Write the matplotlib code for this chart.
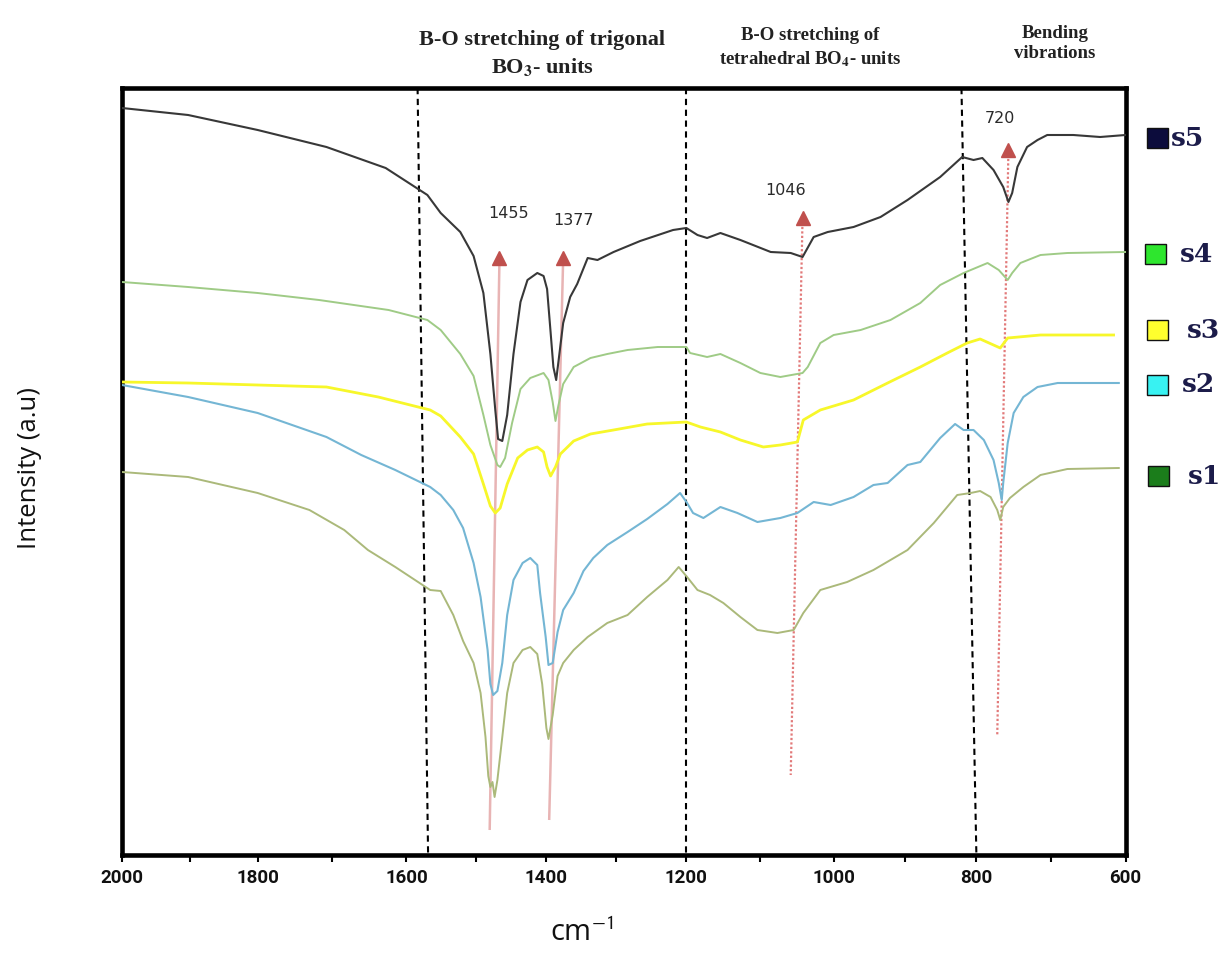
import numpy as np
import matplotlib
matplotlib.use('Agg')
import matplotlib.pyplot as plt
from matplotlib.patches import Rectangle
from matplotlib.ticker import FixedLocator

plt.rcParams['mathtext.fontset'] = 'stix'

# ---------------- data (wavenumber cm-1, intensity a.u.) ----------------
wn_s5 = [2000, 1903, 1801, 1708, 1628, 1570, 1551, 1523, 1504, 1490, 1480, 1473, 1469, 1463,
         1456, 1447, 1437, 1427, 1413, 1404, 1399, 1394, 1390, 1386, 1383, 1376, 1366, 1356,
         1341, 1327, 1304, 1266, 1219, 1200, 1185, 1172, 1154, 1127, 1086, 1059, 1043, 1028,
         1009, 973, 935, 897, 851, 820, 804, 792, 777, 764, 757, 752, 745, 732, 718, 705, 670,
         634, 600]
int_s5 = [74.7, 74.0, 72.5, 70.8, 68.7, 66.0, 64.2, 62.3, 59.9, 56.2, 50.1, 44.5, 41.6, 41.4,
          44.0, 50.1, 55.3, 57.5, 58.2, 57.9, 56.6, 52.3, 48.8, 47.5, 49.2, 53.2, 55.8, 57.1,
          59.7, 59.5, 60.3, 61.4, 62.5, 62.7, 62.0, 61.7, 62.2, 61.5, 60.3, 60.2, 59.8, 61.8,
          62.3, 62.8, 63.8, 65.5, 67.8, 69.8, 69.5, 69.7, 68.5, 66.8, 65.3, 66.2, 68.8, 70.8,
          71.5, 72.0, 72.0, 71.8, 72.0]

wn_s4 = [2000, 1903, 1801, 1718, 1624, 1570, 1551, 1523, 1504, 1490, 1480, 1470, 1466, 1459,
         1449, 1437, 1423, 1404, 1397, 1391, 1387, 1383, 1376, 1361, 1337, 1313, 1284, 1241,
         1200, 1195, 1172, 1154, 1127, 1100, 1073, 1043, 1036, 1019, 1001, 963, 921, 879, 851,
         818, 785, 770, 758, 752, 741, 714, 678, 600]
int_s4 = [57.3, 56.8, 56.2, 55.5, 54.5, 53.5, 52.5, 50.1, 47.9, 44.0, 41.0, 39.0, 38.8, 39.7,
          43.2, 46.6, 47.7, 48.2, 47.5, 45.3, 43.4, 44.9, 47.1, 48.8, 49.7, 50.1, 50.5, 50.8,
          50.8, 50.2, 49.8, 50.1, 49.2, 48.2, 47.8, 48.2, 48.8, 51.2, 52.0, 52.5, 53.5, 55.2,
          57.0, 58.2, 59.2, 58.5, 57.5, 58.2, 59.2, 60.0, 60.2, 60.3]

wn_s3 = [2000, 1903, 1801, 1708, 1638, 1566, 1551, 1523, 1504, 1490, 1480, 1473, 1466, 1456,
         1441, 1427, 1413, 1404, 1399, 1394, 1387, 1380, 1361, 1337, 1304, 1256, 1200, 1181,
         1154, 1127, 1096, 1073, 1050, 1042, 1019, 973, 925, 879, 841, 813, 795, 777, 768, 758,
         714, 616]
int_s3 = [47.3, 47.2, 47.0, 46.8, 45.8, 44.5, 43.9, 41.8, 40.1, 37.1, 34.9, 34.2, 34.7, 37.1,
          39.7, 40.5, 40.8, 40.3, 38.8, 37.9, 38.8, 40.1, 41.4, 42.1, 42.5, 43.1, 43.3, 42.8,
          42.3, 41.5, 40.8, 41.0, 41.3, 43.5, 44.5, 45.5, 47.2, 48.8, 50.2, 51.2, 51.6, 51.0,
          50.7, 51.7, 52.0, 52.0]

wn_s2 = [2000, 1903, 1801, 1708, 1661, 1615, 1566, 1551, 1533, 1519, 1504, 1494, 1484, 1480,
         1476, 1470, 1463, 1456, 1447, 1434, 1423, 1413, 1409, 1401, 1397, 1391, 1384, 1376,
         1361, 1347, 1333, 1313, 1284, 1256, 1227, 1209, 1199, 1191, 1177, 1154, 1131, 1104,
         1073, 1050, 1028, 1005, 973, 945, 925, 897, 879, 851, 830, 818, 804, 790, 777, 770,
         766, 764, 758, 750, 737, 718, 691, 609]
int_s2 = [47.0, 45.8, 44.2, 41.8, 40.0, 38.5, 36.8, 36.0, 34.5, 32.7, 29.2, 25.8, 20.5, 17.1,
          16.0, 16.4, 19.2, 24.0, 27.5, 29.2, 29.7, 29.0, 26.2, 21.8, 19.0, 19.2, 22.3, 24.5,
          26.2, 28.4, 29.7, 31.0, 32.3, 33.6, 35.1, 36.2, 35.2, 34.2, 33.7, 34.8, 34.2, 33.3,
          33.7, 34.2, 35.3, 35.0, 35.8, 37.0, 37.2, 39.0, 39.3, 41.7, 43.1, 42.5, 42.5, 41.5,
          39.5, 37.2, 35.5, 37.2, 41.2, 44.2, 45.8, 46.8, 47.2, 47.2]

wn_s1 = [2000, 1903, 1801, 1731, 1684, 1652, 1615, 1566, 1551, 1533, 1519, 1504, 1494, 1487,
         1483, 1480, 1477, 1474, 1470, 1463, 1456, 1447, 1434, 1423, 1413, 1406, 1400, 1397,
         1391, 1384, 1376, 1361, 1341, 1313, 1284, 1256, 1227, 1211, 1199, 1185, 1168, 1150,
         1127, 1104, 1077, 1055, 1042, 1019, 982, 945, 897, 860, 827, 808, 795, 781, 772, 768,
         764, 755, 737, 714, 678, 609]
int_s1 = [38.3, 37.8, 36.2, 34.5, 32.5, 30.5, 28.8, 26.5, 26.4, 24.0, 21.4, 19.2, 16.2, 11.8,
          7.9, 6.8, 7.3, 5.8, 7.5, 11.8, 16.2, 19.2, 20.5, 20.8, 20.1, 17.1, 12.7, 11.6, 14.0,
          17.9, 19.2, 20.5, 21.8, 23.2, 24.0, 25.8, 27.5, 28.8, 27.8, 26.5, 26.0, 25.2, 23.8,
          22.5, 22.2, 22.5, 24.2, 26.5, 27.3, 28.5, 30.5, 33.2, 36.0, 36.2, 36.4, 35.8, 34.5,
          33.5, 34.8, 35.7, 36.8, 38.0, 38.6, 38.7]

series_names = ['s5', 's4', 's3', 's2', 's1']
line_colors = ['#383838', '#9fcb86', '#f7f72a', '#74b6d4', '#abb97a']
legend_colors = ['#0c0c3c', '#2ee62e', '#ffff2e', '#38f2f2', '#1b7d1b']

# band boundaries (dashed lines): wavenumber at top and at bottom of the plot
band_top_wn = [1584, 1200, 821]
band_bottom_wn = [1569, 1200, 800]
band_titles = [['B-O stretching of trigonal', r'BO$_\mathbf{3}$- units'],
               ['B-O stretching of', r'tetrahedral BO$_\mathbf{4}$- units'],
               ['Bending', 'vibrations']]

# peak markers
peak_labels = ['1455', '1377', '1046', '720']
arrow_top_wn = [1467, 1376, 1043, 757]
arrow_top_int = [59.7, 59.7, 63.7, 70.5]
arrow_bot_wn = [1481, 1396, 1059, 772]
arrow_bot_int = [2.5, 3.5, 8.0, 12.0]
peak_label_wn = [1454, 1361, 1066, 768]
peak_label_int = [64.2, 63.5, 66.5, 73.7]

xticks = [2000, 1800, 1600, 1400, 1200, 1000, 800, 600]
xminor = [1900, 1700, 1500, 1300, 1100, 900, 700]

# the printed wavenumber axis of the original is slightly non-uniform;
# relative positions of its major ticks (fraction of the axis width)
tick_frac = [0.0, 0.1359, 0.2834, 0.4229, 0.5624, 0.7099, 0.8514, 1.0]

# ---------------- figure ----------------
W, H = 1228, 955
fig = plt.figure(figsize=(W / 100, H / 100), dpi=100)
ax = fig.add_axes([122 / W, 1 - 855 / H, 1003.5 / W, 767 / H])

_w = np.array(xticks[::-1], dtype=float)          # 600 ... 2000
_f = -np.array(tick_frac[::-1], dtype=float)      # increasing with wavenumber


def _fwd(x):
    return np.interp(x, _w, _f)


def _inv(u):
    return np.interp(u, _f, _w)


ax.set_xscale('function', functions=(_fwd, _inv))
ax.set_xlim(2000, 600)
ax.set_ylim(0, 76.7)

# peak arrows (under the curves)
for i in range(len(peak_labels)):
    if i < 2:
        ax.plot([arrow_top_wn[i], arrow_bot_wn[i]], [arrow_top_int[i], arrow_bot_int[i]],
                color='#e8b4b4', lw=1.8, zorder=1, solid_capstyle='butt')
    else:
        ax.plot([arrow_top_wn[i], arrow_bot_wn[i]], [arrow_top_int[i], arrow_bot_int[i]],
                color='#e27a7a', lw=1.6, ls=(0, (1, 1)), zorder=1)
    ax.plot([arrow_top_wn[i]], [arrow_top_int[i]], marker='^', ms=10, color='#c0504d',
            mec='#c0504d', zorder=4)
    ax.text(peak_label_wn[i], peak_label_int[i], peak_labels[i], ha='center', va='center',
            fontsize=11.5, color='#2a2a2a', family='DejaVu Sans')

# dashed band boundaries
for t, b in zip(band_top_wn, band_bottom_wn):
    ax.plot([t, b], [76.7, 0], color='black', lw=1.5, ls=(0, (3, 2.2)), zorder=2)

# spectra
series = [(wn_s5, int_s5), (wn_s4, int_s4), (wn_s3, int_s3), (wn_s2, int_s2), (wn_s1, int_s1)]
widths = [1.5, 1.4, 2.0, 1.5, 1.4]
for (wn, it), c, lw in zip(series, line_colors, widths):
    ax.plot(wn, it, color=c, lw=lw, zorder=3, solid_joinstyle='round')

# axes styling
for sp in ax.spines.values():
    sp.set_linewidth(3.3)
    sp.set_color('black')
ax.set_yticks([])
ax.xaxis.set_major_locator(FixedLocator(xticks))
ax.xaxis.set_minor_locator(FixedLocator(xminor))
ax.set_xticklabels([str(v) for v in xticks])
ax.tick_params(axis='x', which='both', direction='out', length=5, width=1.5, pad=5)
for lbl in ax.get_xticklabels():
    lbl.set_family(['Roboto', 'DejaVu Sans'])
    lbl.set_fontweight('bold')
    lbl.set_fontsize(13.5)
    lbl.set_color('#111111')

# axis titles
fig.text(30 / W, 1 - 468 / H, 'Intensity (a.u)', rotation=90, ha='center', va='center',
         fontsize=18.5, family=['Open Sans', 'DejaVu Sans'], color='#111111')
fig.text(582 / W, 1 - 933 / H, r'cm$^{\mathsf{-1}}$', ha='center', va='center',
         fontsize=21, family=['Open Sans', 'DejaVu Sans'], color='#111111')

# band titles
title_pos = [[(542, 40), (542, 67)], [(810, 35), (810, 59)], [(1055, 33), (1055, 53)]]
title_size = [16, 13.5, 13.5]
for lines, poss, fs in zip(band_titles, title_pos, title_size):
    for txt, (px, py) in zip(lines, poss):
        fig.text(px / W, 1 - py / H, txt, ha='center', va='center', fontsize=fs,
                 fontweight='bold', family=['Liberation Serif', 'DejaVu Serif'], color='#222222')

# legend boxes
box_left = [1147, 1145, 1147, 1147, 1148]
box_cy = [138, 254, 330, 385, 476]
text_left = [1171, 1180, 1187, 1182, 1188]
for name, col, bx, cy, tx in zip(series_names, legend_colors, box_left, box_cy, text_left):
    fig.add_artist(Rectangle((bx / W, 1 - (cy + 10) / H), 21 / W, 20 / H,
                             transform=fig.transFigure, facecolor=col, edgecolor='#111111',
                             lw=1.0))
    fig.text(tx / W, 1 - cy / H, name, ha='left', va='center', fontsize=19, fontweight='bold',
             family=['DejaVu Serif'], color='#1c1c4a')

fig.savefig('out.png', dpi=100)
